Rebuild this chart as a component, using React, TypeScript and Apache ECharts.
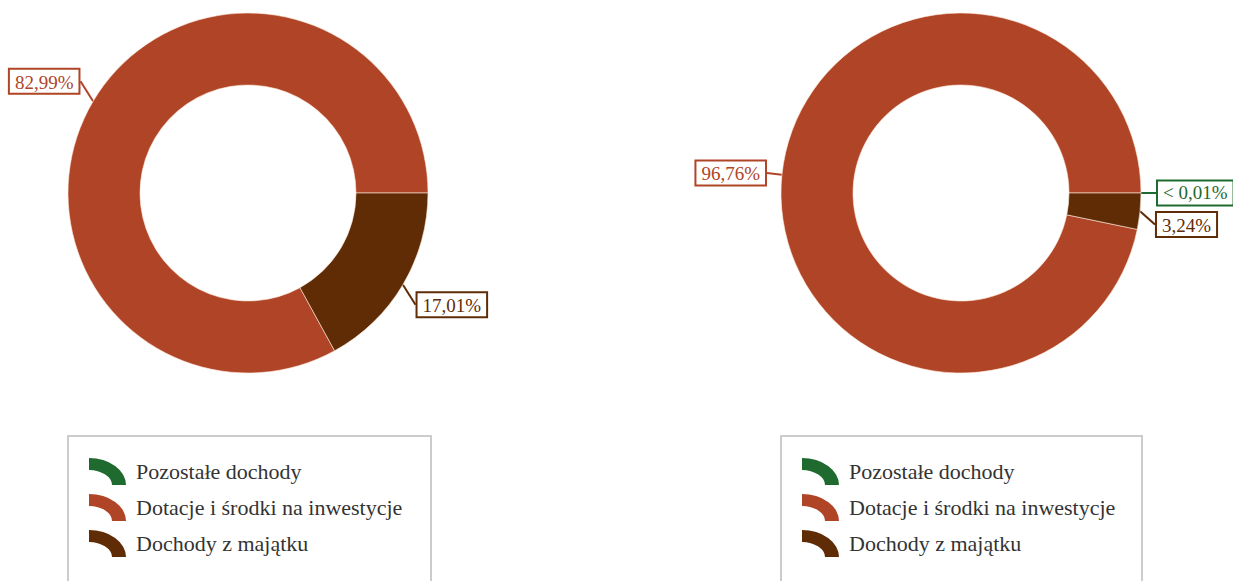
import React, { useEffect, useRef } from "react";
import * as echarts from "echarts";

const categories = ["Pozostałe dochody", "Dotacje i środki na inwestycje", "Dochody z majątku"];
const colors = ["#1e6a2f", "#b04427", "#5f2c06"];
const leftValues = [0, 82.99, 17.01];
const rightValues = [0.004, 96.76, 3.24];

const FONT = "'Liberation Serif', 'Times New Roman', serif";

function fmt(v: number): string {
  if (v < 0.01) return "< 0,01%";
  return v.toFixed(2).replace(".", ",") + "%";
}

const LINE_LEN = 17;

function layoutLabel(params: any) {
  const pts = params.labelLinePoints;
  if (!pts || pts.length < 2) return {};
  const dx = pts[1][0] - pts[0][0];
  const dy = pts[1][1] - pts[0][1];
  const len = Math.sqrt(dx * dx + dy * dy) || 1;
  const ux = dx / len;
  const uy = dy / len;
  const ex = pts[0][0] + ux * LINE_LEN;
  const ey = pts[0][1] + uy * LINE_LEN;
  let va = "middle";
  if (uy < -0.2) va = "bottom";
  else if (uy > 0.02) va = "top";
  return {
    x: ex,
    y: ey,
    align: ux < 0 ? "right" : "left",
    verticalAlign: va,
  };
}

function makeSeries(values: number[], cx: number) {
  return {
    type: "pie",
    clockwise: false,
    startAngle: 0,
    center: [cx, 193],
    radius: [108, 180],
    avoidLabelOverlap: false,
    minShowLabelAngle: 0,
    itemStyle: { borderColor: "rgba(255,235,220,0.6)", borderWidth: 1 },
    label: {
      show: true,
      position: "outside",
      formatter: (p: any) => fmt(p.value),
      fontFamily: FONT,
      fontSize: 19,
      backgroundColor: "#fff",
      borderWidth: 2,
      padding: [3, 5, 1, 5],
      overflow: "none",
    },
    labelLine: { show: true, length: LINE_LEN, length2: 0, lineStyle: { width: 2 } },
    labelLayout: layoutLabel,
    emphasis: { disabled: true },
    data: values.map((v, i) => {
      const item: any = {
        name: categories[i],
        value: v,
        itemStyle: { color: colors[i] },
        label: { color: colors[i], borderColor: colors[i] },
        labelLine: { lineStyle: { color: colors[i] } },
      };
      if (v === 0) {
        item.label = { show: false };
        item.labelLine = { show: false };
      }
      return item;
    }),
  };
}

const ICON = "path://M0,0 A37,27 0 0 1 37,27 L23,27 A23,15 0 0 0 0,12 Z";

function makeLegend(left: number) {
  return {
    left,
    top: 453,
    orient: "vertical",
    data: categories,
    icon: ICON,
    itemWidth: 37,
    itemHeight: 27,
    itemGap: 9,
    symbolKeepAspect: false,
    selectedMode: false,
    itemStyle: { borderWidth: 0 },
    textStyle: { fontFamily: FONT, fontSize: 22, color: "#333", padding: [0, 0, 0, 5] },
  };
}

export default function App() {
  const ref = useRef<HTMLDivElement>(null);
  useEffect(() => {
    document.body.style.margin = "0";
    const chart = echarts.init(ref.current!, null, { renderer: "svg" });
    chart.setOption({
      animation: false,
      color: colors,
      legend: [makeLegend(84), makeLegend(797)],
      graphic: [
        { type: "rect", shape: { x: 68, y: 436, width: 363, height: 200 }, style: { fill: "none", stroke: "#cccccc", lineWidth: 2 } },
        { type: "rect", shape: { x: 781, y: 436, width: 361, height: 200 }, style: { fill: "none", stroke: "#cccccc", lineWidth: 2 } },
      ],
      series: [makeSeries(leftValues, 248), makeSeries(rightValues, 961)],
    });
    return () => chart.dispose();
  }, []);
  return <div ref={ref} style={{ width: 1233, height: 581 }} />;
}
